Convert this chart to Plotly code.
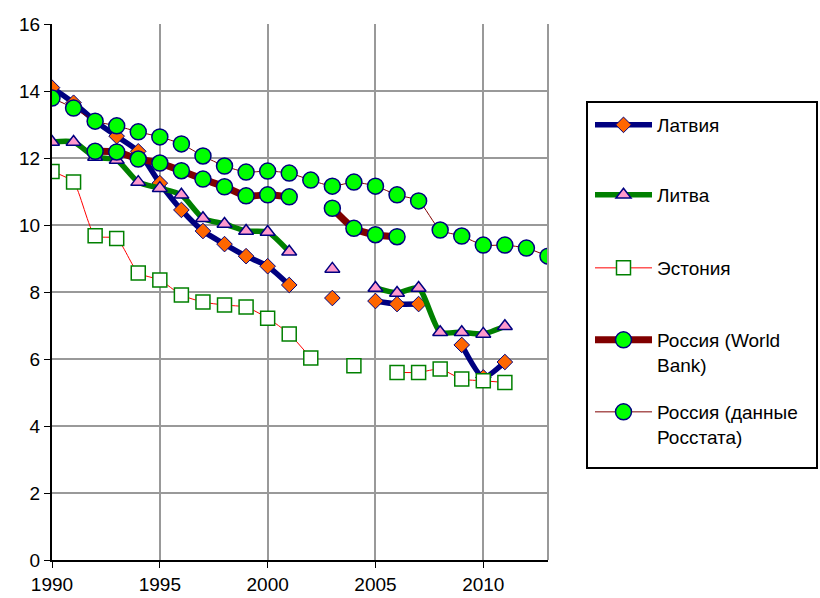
import plotly.graph_objects as go

years = list(range(1990, 2014))

latvia = [14.1, 13.65, 13.1, 12.65, 12.2, 11.25, 10.45, 9.82, 9.43, 9.07, 8.77, 8.21,
          None, 7.82, None, 7.73, 7.64, 7.64, None, 6.42, 5.45, 5.91, None, None]
lithuania = [12.48, 12.48, 12.03, 11.94, 11.28, 11.1, 10.9, 10.2, 10.03, 9.82, 9.79, 9.2,
             None, 8.69, None, 8.12, 7.97, 8.12, 6.8, 6.8, 6.75, 6.98, None, None]
estonia = [11.6, 11.28, 9.68, 9.6, 8.57, 8.36, 7.91, 7.7, 7.61, 7.55, 7.22, 6.75,
           6.03, None, 5.8, None, 5.6, 5.6, 5.7, 5.4, 5.35, 5.3, None, None]
russia_wb = [None, None, 12.2, 12.18, 11.97, 11.85, 11.62, 11.37, 11.14, 10.87, 10.9, 10.84,
             None, 10.5, 9.9, 9.71, 9.65, None, None, None, None, None, None, None]
russia_rosstat = [13.79, 13.49, 13.1, 12.96, 12.78, 12.63, 12.42, 12.06, 11.76, 11.58, 11.61, 11.55,
                  11.34, 11.16, 11.28, 11.16, 10.9, 10.72, 9.85, 9.67, 9.4, 9.4, 9.31, 9.07]

names = ["Латвия", "Литва", "Эстония", "Россия (World<br>Bank)", "Россия (данные<br>Росстата)"]

FONT = "Liberation Sans, Arial, sans-serif"
NAVY = "#000080"
FS = 19

# plot area in pixels
L, R, T, B = 52, 548, 24, 560
W, H = 820, 598


def px(x):
    return (x - L) / (R - L)


def py(y):
    return (B - y) / (B - T)


fig = go.Figure()

fig.add_trace(go.Scatter(
    x=years, y=latvia, name=names[0], mode="lines+markers", legend="legend",
    line=dict(color=NAVY, width=5.5, shape="spline", smoothing=0.6),
    marker=dict(symbol="diamond", size=12, color="#FF6600", line=dict(color=NAVY, width=1)),
    connectgaps=False))
fig.add_trace(go.Scatter(
    x=years, y=lithuania, name=names[1], mode="lines+markers", legend="legend2",
    line=dict(color="#008000", width=5.5, shape="spline", smoothing=0.6),
    marker=dict(symbol="triangle-up", size=13, color="#FF99CC", line=dict(color=NAVY, width=1.5)),
    connectgaps=False))
fig.add_trace(go.Scatter(
    x=years, y=estonia, name=names[2], mode="lines+markers", legend="legend3",
    line=dict(color="#FF0000", width=1, shape="spline", smoothing=0.6),
    marker=dict(symbol="square", size=14, color="#FFFFFF", line=dict(color="#008000", width=1.5)),
    connectgaps=False))
fig.add_trace(go.Scatter(
    x=years, y=russia_wb, name=names[3], mode="lines+markers", legend="legend4",
    line=dict(color="#800000", width=7, shape="spline", smoothing=0.6),
    marker=dict(symbol="circle", size=16, color="#00FF00", line=dict(color=NAVY, width=1.5)),
    connectgaps=False))
fig.add_trace(go.Scatter(
    x=years, y=russia_rosstat, name=names[4], mode="lines+markers", legend="legend5",
    line=dict(color="#800000", width=1, shape="spline", smoothing=0.6),
    marker=dict(symbol="circle", size=16, color="#00FF00", line=dict(color=NAVY, width=1.5)),
    connectgaps=False))

leg_common = dict(xanchor="left", yanchor="top", bgcolor="rgba(0,0,0,0)", borderwidth=0,
                  font=dict(family=FONT, size=FS, color="black"), itemwidth=57, valign="top")
legend_tops = [106, 176, 249, 321, 393]
legends = {}
for i, t in enumerate(legend_tops):
    key = "legend" if i == 0 else f"legend{i + 1}"
    legends[key] = dict(x=px(590), y=py(t), **leg_common)

fig.update_layout(
    width=W, height=H,
    margin=dict(l=L, r=W - R, t=T, b=H - B),
    paper_bgcolor="white", plot_bgcolor="white",
    font=dict(family=FONT, size=FS, color="black"),
    showlegend=True,
    xaxis=dict(
        range=[1990, 2013], tickvals=[1990, 1995, 2000, 2005, 2010],
        showgrid=True, gridcolor="#999999", gridwidth=2,
        showline=True, linecolor="black", linewidth=2,
        ticks="outside", ticklen=6, tickcolor="black", tickwidth=1,
        zeroline=False, tickfont=dict(size=FS), automargin=False,
    ),
    yaxis=dict(
        range=[0, 16], dtick=2,
        showgrid=True, gridcolor="#999999", gridwidth=2,
        showline=True, linecolor="black", linewidth=2,
        ticks="outside", ticklen=6, tickcolor="black", tickwidth=1,
        zeroline=False, tickfont=dict(size=FS), automargin=False,
    ),
    shapes=[
        dict(type="line", xref="paper", yref="paper", x0=1, x1=1, y0=0, y1=1,
             line=dict(color="#999999", width=2)),
        dict(type="rect", xref="paper", yref="paper", x0=px(587), x1=px(817),
             y0=py(468), y1=py(102), line=dict(color="black", width=2),
             fillcolor="rgba(0,0,0,0)"),
    ],
    **legends,
)

fig.write_html("out.html", post_script="document.body.style.margin='0';",
               config={"displayModeBar": False})
